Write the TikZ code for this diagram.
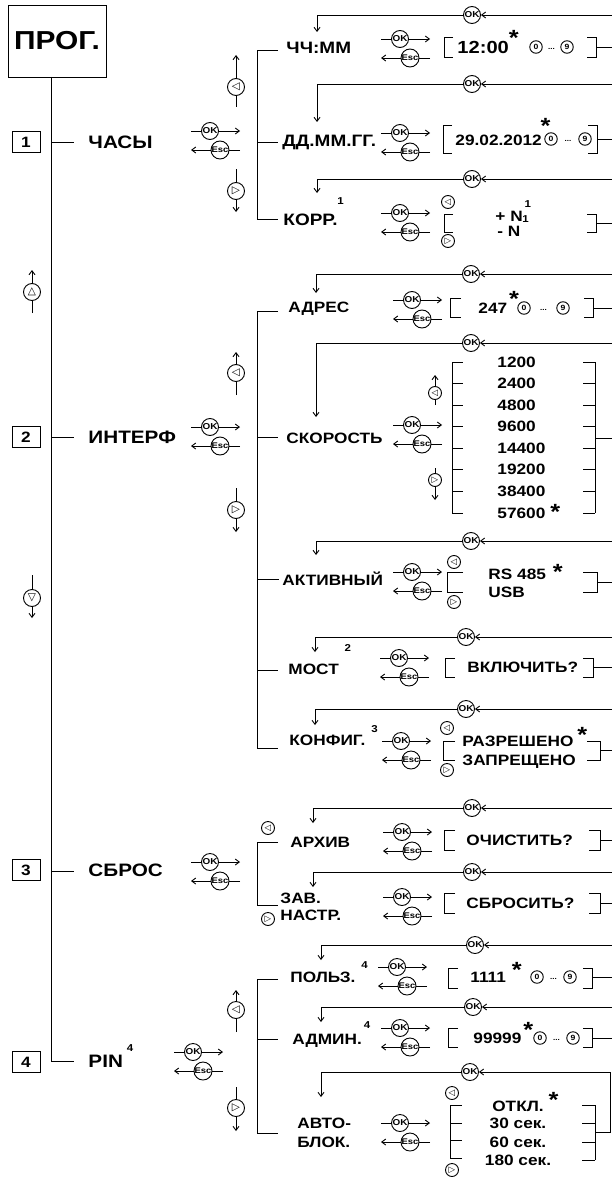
\documentclass[tikz,border=0pt]{standalone}
\usepackage{fontspec}
\setmainfont[FakeStretch=1.15]{Liberation Sans}
\newfontfamily\navfont{DejaVu Sans}
\usepackage{tikz}
\usetikzlibrary{arrows.meta, calc}

% OK / Esc pair, given the centre of the OK key
\newcommand{\okesc}[3]{%
  \node[okbtn] (#1-ok) at (#2,#3) {OK};
  \node[escbtn] (#1-esc) at ($(#1-ok)+(10,19)$) {Esc};
  \coordinate (#1-a) at ($(#1-ok)+(-19,0)$);
  \coordinate (#1-b) at ($(#1-ok)+(30,0)$);
  \coordinate (#1-c) at ($(#1-ok)+(-19,19)$);
  \coordinate (#1-d) at ($(#1-ok)+(30,19)$);
  \draw (#1-a) -- (#1-ok);
  \draw[->] (#1-ok) -- (#1-b);
  \draw (#1-d) -- (#1-esc);
  \draw[->] (#1-esc) -- (#1-c);
}
% arrow key with its arrow
\newcommand{\navkey}[7][navbtn]{%
  \node[#1] (#2) at (#3,#4) {#7};
  \coordinate (#2-s) at (#3,#5);
  \coordinate (#2-t) at (#3,#6);
  \draw (#2-s) -- (#2);
  \draw[->] (#2) -- (#2-t);
}
% OK loop back from the right bracket
\newcommand{\okback}[8]{%
  \node[okbtn] (#1) at (#5,#3) {OK};
  \coordinate (#1-m) at (#6,#7);
  \coordinate (#1-e) at (#8,#7);
  \coordinate (#1-r) at (#8,#3);
  \coordinate (#1-l) at (#2,#3);
  \coordinate (#1-t) at (#2,#4);
  \draw[->] (#1-m) -- (#1-e) -- (#1-r) -- (#1);
  \draw[->] (#1) -- (#1-l) -- (#1-t);
}
% 0 ... 9 keys
\newcommand{\digitkeys}[4]{%
  \node[digkey] (#1-0) at (#2,#4) {0};
  \node[digkey] (#1-9) at (#3,#4) {9};
  \node[dots] (#1-dd) at ($(#1-0)!0.5!(#1-9)+(0,2)$) {...};
}
\newcommand{\lbrk}[4]{\draw (#1+#4,#2) -| (#1,#3) -- (#1+#4,#3);}
\newcommand{\rbrk}[4]{\draw (#1-#4,#2) -| (#1,#3) -- (#1-#4,#3);}

\begin{document}
\begin{tikzpicture}[
    x=1pt, y=-1pt,
    line width=0.9pt,
    >={Straight Barb[length=4pt, width=6pt]},
    every node/.style={inner sep=0pt},
    progbox/.style={draw, minimum width=98pt, minimum height=72pt, font=\fontsize{26}{26}\selectfont\bfseries},
    numbox/.style={draw, minimum width=28pt, minimum height=21pt, font=\fontsize{15}{15}\selectfont\bfseries},
    mainlbl/.style={anchor=west, font=\fontsize{18}{18}\selectfont\bfseries, text height=12.9pt, text depth=0pt},
    sublbl/.style={anchor=west, font=\fontsize{15}{15}\selectfont\bfseries, text height=10.7pt, text depth=0pt},
    sublbig/.style={sublbl, font=\fontsize{16.5}{16.5}\selectfont\bfseries, text height=11.8pt},
    valtxt/.style={anchor=west, font=\fontsize{15}{15}\selectfont\bfseries, text height=10.7pt, text depth=0pt},
    valbig/.style={valtxt, font=\fontsize{17.5}{17.5}\selectfont\bfseries, text height=12.5pt},
    supr/.style={anchor=west, font=\fontsize{10}{10}\selectfont\bfseries},
    starsym/.style={anchor=west, font=\fontsize{22}{22}\selectfont\bfseries},
    okbtn/.style={draw, circle, fill=white, minimum size=17pt, font=\fontsize{8.6}{8.6}\selectfont\bfseries},
    escbtn/.style={okbtn, minimum size=18pt, font=\fontsize{8.2}{8.2}\selectfont\bfseries},
    navbtn/.style={draw, circle, minimum size=17pt, font=\navfont\fontsize{10.5}{10.5}\selectfont},
    navsm/.style={draw, circle, minimum size=13pt, font=\navfont\fontsize{8.5}{8.5}\selectfont},
    digkey/.style={draw, circle, minimum size=12.5pt, font=\fontsize{7.5}{7.5}\selectfont\bfseries},
    dots/.style={font=\fontsize{7}{7}\selectfont\bfseries},
  ]
  \useasboundingbox (0,0) rectangle (612,1180);

  % main menu
  \node[progbox] (prog) at (57,41) {ПРОГ.};
  \coordinate (sp-top) at (51,77);
  \coordinate (sp-bot) at (51,1061);
  \coordinate (sp-end) at (74,1061);
  \draw (sp-top) -- (sp-bot) -- (sp-end);
  \coordinate (st1a) at (51,142); \coordinate (st1b) at (74,142);
  \coordinate (st2a) at (51,437); \coordinate (st2b) at (74,437);
  \coordinate (st3a) at (51,871); \coordinate (st3b) at (74,871);
  \draw (st1a) -- (st1b);
  \draw (st2a) -- (st2b);
  \draw (st3a) -- (st3b);
  \navkey{spup}{32}{292}{313}{270}{△}
  \navkey{spdn}{32}{598}{575}{618}{▽}

  % 1 - clock
  \node[numbox] (box1) at (26,142) {1};
  \node[mainlbl] (chasy) at (88,142) {ЧАСЫ};
  \okesc{e1}{210}{131}
  \navkey{e1up}{236}{87}{107}{55}{◁}
  \navkey{e1dn}{236}{191}{169}{212}{▷}
  \draw (278,50) -| (257,219) -- (278,219);
  \draw (257,142) -- (278,142);

  \node[sublbig] (hhmm) at (286,48) {ЧЧ:ММ};
  \okesc{e11}{400}{39}
  \lbrk{444}{37}{57}{9}
  \node[valbig] (v11) at (457,47) {12:00};
  \node[starsym, xshift=-1pt] (s11) at (v11.east |- 0,38) {*};
  \digitkeys{d11}{536}{567}{47}
  \rbrk{596}{37}{57}{9}
  \okback{k11}{317}{15}{32}{472}{596}{47}{613}

  \node[sublbig] (ddmm) at (282,141) {ДД.ММ.ГГ.};
  \okesc{e12}{400}{133}
  \lbrk{443}{125}{153}{9}
  \node[valtxt] (v12) at (455,140) {29.02.2012};
  \node[starsym, xshift=-2pt] (s12) at (v12.east |- 0,126) {*};
  \digitkeys{d12}{551}{585}{139}
  \rbrk{597}{125}{153}{9}
  \okback{k12}{317}{84}{122}{472}{597}{139}{613}

  \node[sublbig] (korr) at (283,220) {КОРР.};
  \node[supr, xshift=-1pt] (korr-s) at (korr.east |- 0,201) {1};
  \okesc{e13}{400}{213}
  \node[navsm] (e13l) at (448,202) {◁};
  \node[navsm] (e13r) at (448,241) {▷};
  \lbrk{444}{214}{232}{9}
  \node[valtxt] (v13a) at (495,216) {+ N};
  \node[supr, xshift=1pt] (v13as) at (v13a.east |- 0,204) {1};
  \node[valtxt] (v13b) at (497,231) {- N};
  \node[supr, xshift=1pt] (v13bs) at (v13b.east |- 0,219) {1};
  \rbrk{596}{214}{232}{9}
  \okback{k13}{317}{179}{193}{472}{596}{223}{613}

  % 2 - interface
  \node[numbox] (box2) at (26,437) {2};
  \node[mainlbl] (interf) at (88,437) {ИНТЕРФ};
  \okesc{e2}{210}{427}
  \navkey{e2up}{236}{373}{395}{352}{◁}
  \navkey{e2dn}{236}{510}{488}{532}{▷}
  \draw (278,311) -| (257,748) -- (278,748);
  \draw (257,437) -- (278,437);
  \draw (257,579) -- (279,579);
  \draw (257,670) -- (278,670);

  \node[sublbl] (adres) at (288,307) {АДРЕС};
  \okesc{e21}{412}{300}
  \lbrk{450}{298}{317}{11}
  \node[valtxt] (v21) at (478,308) {247};
  \node[starsym, xshift=1pt] (s21) at (v21.east |- 0,299) {*};
  \digitkeys{d21}{524}{563}{308}
  \rbrk{593}{298}{317}{9}
  \okback{k21}{316}{274}{293}{471}{593}{308}{613}

  \node[sublbl] (speed) at (286,438) {СКОРОСТЬ};
  \okesc{e22}{412}{425}
  \navkey[navsm]{e22up}{435}{393}{405}{375}{◁}
  \navkey[navsm]{e22dn}{435}{480}{468}{500}{▷}
  \draw (452,362) -- (452,513);
  \draw (452,362) -- (463,362) (452,383.5) -- (463,383.5) (452,405) -- (463,405)
        (452,426.5) -- (463,426.5) (452,448) -- (463,448) (452,469.5) -- (463,469.5)
        (452,491) -- (463,491) (452,513) -- (463,513);
  \node[valtxt] (sp1) at (497,362) {1200};
  \node[valtxt] (sp2) at (497,383.5) {2400};
  \node[valtxt] (sp3) at (497,405) {4800};
  \node[valtxt] (sp4) at (497,426.5) {9600};
  \node[valtxt] (sp5) at (497,448) {14400};
  \node[valtxt] (sp6) at (497,469.5) {19200};
  \node[valtxt] (sp7) at (497,491) {38400};
  \node[valtxt] (sp8) at (497,513) {57600};
  \node[starsym, xshift=4pt] (s22) at (sp8.east |- 0,512) {*};
  \draw (595,362) -- (595,513);
  \draw (583,362) -- (595,362) (583,383.5) -- (595,383.5) (583,405) -- (595,405)
        (583,426.5) -- (595,426.5) (583,448) -- (595,448) (583,469.5) -- (595,469.5)
        (583,491) -- (595,491) (583,513) -- (595,513);
  \okback{k22}{316}{343}{417}{471}{595}{438}{613}

  \node[sublbl] (activ) at (282,580) {АКТИВНЫЙ};
  \okesc{e23}{412}{572}
  \node[navsm] (e23l) at (454,562) {◁};
  \node[navsm] (e23r) at (454,602) {▷};
  \lbrk{447}{572}{592}{16}
  \node[valtxt] (v23a) at (488,574) {RS 485};
  \node[starsym, xshift=6pt] (s23) at (v23a.east |- 0,572) {*};
  \node[valtxt] (v23b) at (488,592) {USB};
  \rbrk{597}{572}{592}{14}
  \okback{k23}{316}{541}{555}{471}{597}{582}{613}

  \node[sublbl] (most) at (288,669) {МОСТ};
  \node[supr, xshift=5pt] (most-s) at (most.east |- 0,648) {2};
  \okesc{e24}{399}{658}
  \lbrk{445}{658}{677}{10}
  \node[valtxt] (v24) at (467,667) {ВКЛЮЧИТЬ?};
  \rbrk{593}{658}{677}{10}
  \okback{k24}{315}{637}{652}{466}{593}{667}{613}

  \node[sublbl] (konf) at (289,740) {КОНФИГ.};
  \node[supr, xshift=5pt] (konf-s) at (konf.east |- 0,729) {3};
  \okesc{e25}{401}{741}
  \node[navsm] (e25l) at (447,728) {◁};
  \node[navsm] (e25r) at (447,770) {▷};
  \lbrk{443}{741}{760}{12}
  \node[valtxt] (v25a) at (462,741) {РАЗРЕШЕНО};
  \node[starsym, xshift=3pt] (s25) at (v25a.east |- 0,735) {*};
  \node[valtxt] (v25b) at (462,760) {ЗАПРЕЩЕНО};
  \rbrk{600}{741}{760}{13}
  \okback{k25}{315}{709}{725}{466}{600}{750}{613}

  % 3 - reset
  \node[numbox] (box3) at (26,870) {3};
  \node[mainlbl] (sbros) at (88,870) {СБРОС};
  \okesc{e3}{210}{862}
  \draw (278,842) -| (257,905) -- (278,905);
  \node[navsm] (e3l) at (268,828) {◁};
  \node[navsm] (e3r) at (268,919) {▷};

  \node[sublbl] (arh) at (290,842) {АРХИВ};
  \okesc{e31}{402}{832}
  \lbrk{444}{830}{850}{11}
  \node[valtxt] (v31) at (466,840) {ОЧИСТИТЬ?};
  \rbrk{600}{830}{850}{11}
  \okback{k31}{313}{808}{823}{472}{600}{840}{613}

  \node[sublbl] (zav) at (280,898) {ЗАВ.};
  \node[sublbl] (nastr) at (280,915) {НАСТР.};
  \okesc{e32}{402}{897}
  \lbrk{444}{893}{913}{11}
  \node[valtxt] (v32) at (466,903) {СБРОСИТЬ?};
  \rbrk{600}{893}{913}{11}
  \okback{k32}{313}{872}{887}{472}{600}{903}{613}

  % 4 - PIN
  \node[numbox] (box4) at (26,1062) {4};
  \node[mainlbl] (pin) at (88,1061) {PIN};
  \node[supr, xshift=3pt] (pin-s) at (pin.east |- 0,1048) {4};
  \okesc{e4}{193}{1052}
  \navkey{e4up}{236}{1010}{1032}{990}{◁}
  \navkey{e4dn}{236}{1108}{1087}{1131}{▷}
  \draw (278,979) -| (257,1133) -- (278,1133);
  \draw (257,1039) -- (278,1039);

  \node[sublbl] (polz) at (290,977) {ПОЛЬЗ.};
  \node[supr, xshift=5pt] (polz-s) at (polz.east |- 0,965) {4};
  \okesc{e41}{397}{967}
  \lbrk{448}{968}{988}{10}
  \node[valtxt] (v41) at (470,977) {1111};
  \node[starsym, xshift=5pt] (s41) at (v41.east |- 0,970) {*};
  \digitkeys{d41}{537}{570}{977}
  \rbrk{592}{968}{988}{9}
  \okback{k41}{321}{945}{960}{475}{592}{977}{613}

  \node[sublbl] (adm) at (292,1039) {АДМИН.};
  \node[supr, xshift=1pt] (adm-s) at (adm.east |- 0,1025) {4};
  \okesc{e42}{400}{1028}
  \lbrk{448}{1028}{1047}{10}
  \node[valtxt] (v42) at (473,1038) {99999};
  \node[starsym, xshift=1pt] (s42) at (v42.east |- 0,1030) {*};
  \digitkeys{d42}{540}{573}{1038}
  \rbrk{592}{1028}{1047}{9}
  \okback{k42}{321}{1007}{1022}{473}{592}{1038}{613}

  \node[sublbl] (avto) at (297,1123) {АВТО-};
  \node[sublbl] (blok) at (297,1142) {БЛОК.};
  \okesc{e43}{400}{1123}
  \node[navsm] (e43l) at (452,1093) {◁};
  \node[navsm] (e43r) at (452,1170) {▷};
  \draw (450,1105) -- (450,1158);
  \draw (450,1105) -- (462,1105) (450,1123) -- (462,1123)
        (450,1140) -- (462,1140) (450,1158) -- (462,1158);
  \node[valtxt, anchor=center] (t1) at (518,1106) {ОТКЛ.};
  \node[valtxt, anchor=center] (t2) at (518,1123) {30 сек.};
  \node[valtxt, anchor=center] (t3) at (518,1142) {60 сек.};
  \node[valtxt, anchor=center] (t4) at (518,1160) {180 сек.};
  \node[starsym, xshift=4pt] (s43) at (t1.east |- 0,1100) {*};
  \draw (595,1105) -- (595,1160);
  \draw (582,1105) -- (595,1105) (582,1123) -- (595,1123)
        (582,1142) -- (595,1142) (582,1160) -- (595,1160);
  \okback{k43}{321}{1072}{1097}{470}{595}{1132}{610.5}
\end{tikzpicture}
\end{document}
